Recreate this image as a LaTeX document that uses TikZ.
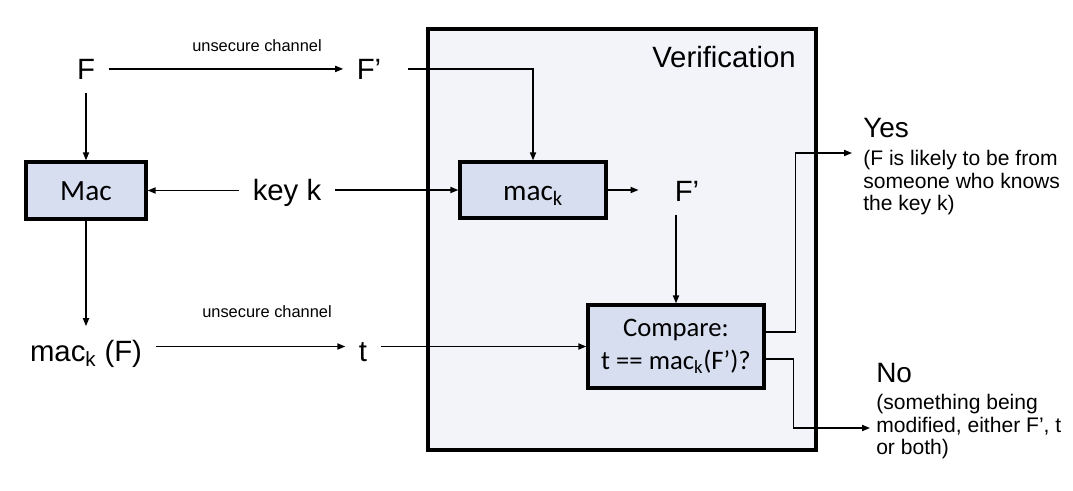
\documentclass[tikz,border=0pt]{standalone}
\usepackage{fontspec}
\setmainfont{Liberation Sans}
\newfontfamily\calibri{Carlito}
\usetikzlibrary{arrows.meta}
\definecolor{boxblue}{RGB}{214,222,240}
\definecolor{verbg}{RGB}{242,244,249}
\begin{document}
\begin{tikzpicture}[x=0.75pt,y=-0.75pt,
  lbl/.style={font=\fontsize{22}{26}\selectfont, inner sep=10pt, anchor=base},
  small/.style={font=\fontsize{12.3}{14}\selectfont, inner sep=0pt, anchor=base},
  box/.style={draw=black, line width=2.5pt, fill=boxblue, inner sep=0pt, font=\calibri\fontsize{22}{26}\selectfont},
  onebox/.style={box, text height=15.5pt, text depth=0pt},
  conn/.style={line width=1.1pt, -{Triangle[length=6pt,width=4.6pt]}},
  answer/.style={font=\fontsize{21}{25}\selectfont, anchor=base west, inner sep=0pt},
  note/.style={font=\fontsize{15.8}{16.9}\selectfont, anchor=north west, inner sep=0pt, align=left},
]
\useasboundingbox (0,0) rectangle (1073,490);
% verification area
\node[draw=black, line width=3pt, fill=verbg, minimum width=291pt, minimum height=315.75pt, inner sep=0pt] (verif) at (622,239.5) {};
\node[font=\fontsize{22}{26}\selectfont, anchor=base east, inner sep=0pt] (vtitle) at (796,67) {Verification};
% nodes
\node[lbl] (F) at (86,79) {F};
\node[lbl] (Fp) at (369,79) {F’};
\node[small] (uc1) at (257,51) {unsecure channel};
\node[onebox, minimum width=90pt, minimum height=42.75pt] (mac) at (86,190.5) {Mac};
\node[lbl] (key) at (287,200) {key k};
\node[onebox, minimum width=109.5pt, minimum height=42pt] (mack) at (533,190) {mac\textsubscript{k}};
\node[lbl] (Fp2) at (687,201) {F’};
\node[box, minimum width=132pt, minimum height=62.25pt, align=center, font=\calibri\fontsize{20}{24.75}\selectfont] (cmp) at (676,346.5) {Compare:\\t == mac\textsubscript{k}(F’)?};
\node[lbl] (macF) at (86,361) {mac\textsubscript{k} (F)};
\node[small] (uc2) at (267,317) {unsecure channel};
\node[lbl] (t) at (363,361) {t};
\node[answer] (yes) at (863,137) {Yes};
\node[note] (yesd) at (863,150) {(F is likely to be from\\someone who knows\\the key k)};
\node[answer] (no) at (876,382) {No};
\node[note] (nod) at (876,394) {(something being\\modified, either F’, t\\or both)};
\coordinate (yesin) at (852,153);
\coordinate (noin) at (870,428);
% connectors
\draw[conn] (F) -- (Fp);
\draw[conn] ([xshift=10pt]Fp.east) -| (mack.north);
\draw[conn] (F) -- (mac);
\draw[conn] (key.west |- mac.east) -- (mac.east);
\draw[conn] (key.east |- mack.west) -- (mack.west);
\draw[conn] (mack.east) -- ([xshift=-17pt]Fp2.west |- mack.east);
\draw[conn] (cmp.north |- Fp2.south) -- (cmp.north);
\draw[conn] (mac) -- (macF);
\draw[conn] (macF.east |- cmp.west) -- (t.west |- cmp.west);
\draw[conn] (t.east |- cmp.west) -- (cmp.west);
\draw[conn] ([yshift=10.9pt]cmp.east) -- ++(30,0) |- (yesin);
\draw[conn] ([yshift=-9.4pt]cmp.east) -- ++(28,0) |- (noin);
\end{tikzpicture}
\end{document}
